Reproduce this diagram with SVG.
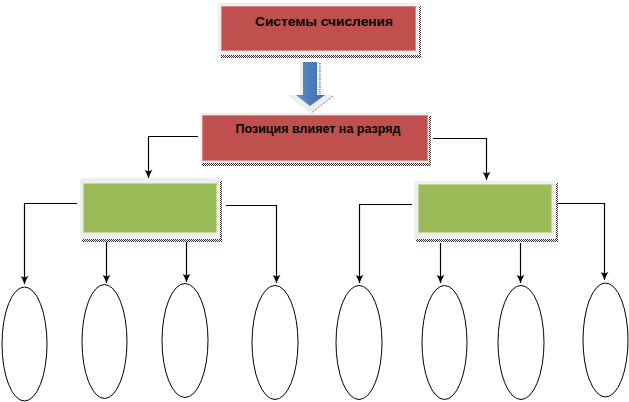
<svg xmlns="http://www.w3.org/2000/svg" width="629" height="402" viewBox="0 0 629 402">
  <defs>
    <pattern id="checker" width="2" height="2" patternUnits="userSpaceOnUse">
      <rect width="2" height="2" fill="#ffffff"/>
      <rect width="1" height="1" fill="#3a2a2a"/>
      <rect x="1" y="1" width="1" height="1" fill="#3a2a2a"/>
    </pattern>
    <marker id="arr" viewBox="0 0 10 10" refX="10" refY="5" markerWidth="8" markerHeight="8" orient="auto" markerUnits="userSpaceOnUse">
      <path d="M0,0 L3,2 L10,5 L3,8 L0,10 L2,5 Z" fill="#000"/>
    </marker>
    <linearGradient id="blue" x1="0" y1="0" x2="1" y2="0">
      <stop offset="0" stop-color="#5b8cc9"/>
      <stop offset="1" stop-color="#3f6fae"/>
    </linearGradient>
  </defs>
  <style>
    .frame { fill: #efefef; }
    .red { fill: #c0504d; stroke: #d88a88; stroke-width: 1; }
    .green { fill: #9bbb59; stroke: #c3d69b; stroke-width: 1; }
    .shadow { fill: url(#checker); }
    .lbl { font-family: "Liberation Sans", Arial, sans-serif; font-weight: bold; font-size: 12px; fill: #000; }
    .conn { fill: none; stroke: #000; stroke-width: 1.2; marker-end: url(#arr); }
    .oval { fill: #fff; stroke: #000; stroke-width: 1; }
  </style>

  <g id="connectors">
    <path class="conn" d="M198,136.5 H148.5 V178"/>
    <path class="conn" d="M433,138.5 H486.5 V180"/>
    <path class="conn" d="M77,203.5 H24.5 V284"/>
    <path class="conn" d="M226,205.5 H276.5 V283"/>
    <path class="conn" d="M106.5,242 V283"/>
    <path class="conn" d="M186.5,242 V282"/>
    <path class="conn" d="M412,204.5 H359.5 V283"/>
    <path class="conn" d="M557,203.5 H604.5 V280"/>
    <path class="conn" d="M440.5,243 V283"/>
    <path class="conn" d="M520.5,243 V283"/>
  </g>

  <g id="top">
    <rect class="shadow" x="221" y="55" width="200" height="3"/>
    <rect class="shadow" x="419" y="6" width="2" height="52"/>
    <rect class="frame" x="218" y="3" width="201" height="52"/>
    <rect class="red" x="221.5" y="6.5" width="194" height="44"/>
    <text class="lbl" x="324" y="26" text-anchor="middle" textLength="138" lengthAdjust="spacingAndGlyphs">Системы  счисления</text>
  </g>

  <g id="down-arrow">
    <path d="M320,62 V95 H333 L310,113 L287,95 H300 V62 Z" fill="#eeeeee"/>
    <path d="M320,63 V96 M333,96 L310,114" fill="none" stroke="#3a4a6a" stroke-width="1" stroke-dasharray="1,1"/>
    <path d="M303,62 H317 V95 H325 L310,106 L296,95 H303 Z" fill="url(#blue)"/>
  </g>

  <g id="position">
    <rect class="shadow" x="202" y="163" width="229" height="3"/>
    <rect class="shadow" x="429" y="116" width="2" height="50"/>
    <rect class="frame" x="200" y="113" width="229" height="50"/>
    <rect class="red" x="202.5" y="115.5" width="225" height="45"/>
    <text class="lbl" x="318" y="133" text-anchor="middle" textLength="165" lengthAdjust="spacingAndGlyphs">Позиция влияет на разряд</text>
  </g>

  <g id="left-group">
    <rect class="shadow" x="82" y="239" width="140" height="3"/>
    <rect class="shadow" x="220" y="181" width="2" height="61"/>
    <rect class="frame" x="80" y="178" width="140" height="61"/>
    <rect class="green" x="83.5" y="183.5" width="133" height="49"/>
  </g>

  <g id="right-group">
    <rect class="shadow" x="416" y="239" width="142" height="3"/>
    <rect class="shadow" x="556" y="183" width="2" height="59"/>
    <rect class="frame" x="414" y="181" width="142" height="58"/>
    <rect class="green" x="418.5" y="184.5" width="133" height="48"/>
  </g>

  <g id="oval1"><ellipse class="oval" cx="24.5" cy="344" rx="22.5" ry="57"/></g>
  <g id="oval2"><ellipse class="oval" cx="104.5" cy="341.5" rx="22.5" ry="57"/></g>
  <g id="oval3"><ellipse class="oval" cx="185" cy="340.5" rx="23" ry="57"/></g>
  <g id="oval4"><ellipse class="oval" cx="275" cy="342.5" rx="23" ry="57"/></g>
  <g id="oval5"><ellipse class="oval" cx="359" cy="342.5" rx="23" ry="57"/></g>
  <g id="oval6"><ellipse class="oval" cx="444.5" cy="342.5" rx="22.5" ry="57"/></g>
  <g id="oval7"><ellipse class="oval" cx="521" cy="342.5" rx="23" ry="57"/></g>
  <g id="oval8"><ellipse class="oval" cx="605.5" cy="340" rx="22.5" ry="57"/></g>
</svg>
